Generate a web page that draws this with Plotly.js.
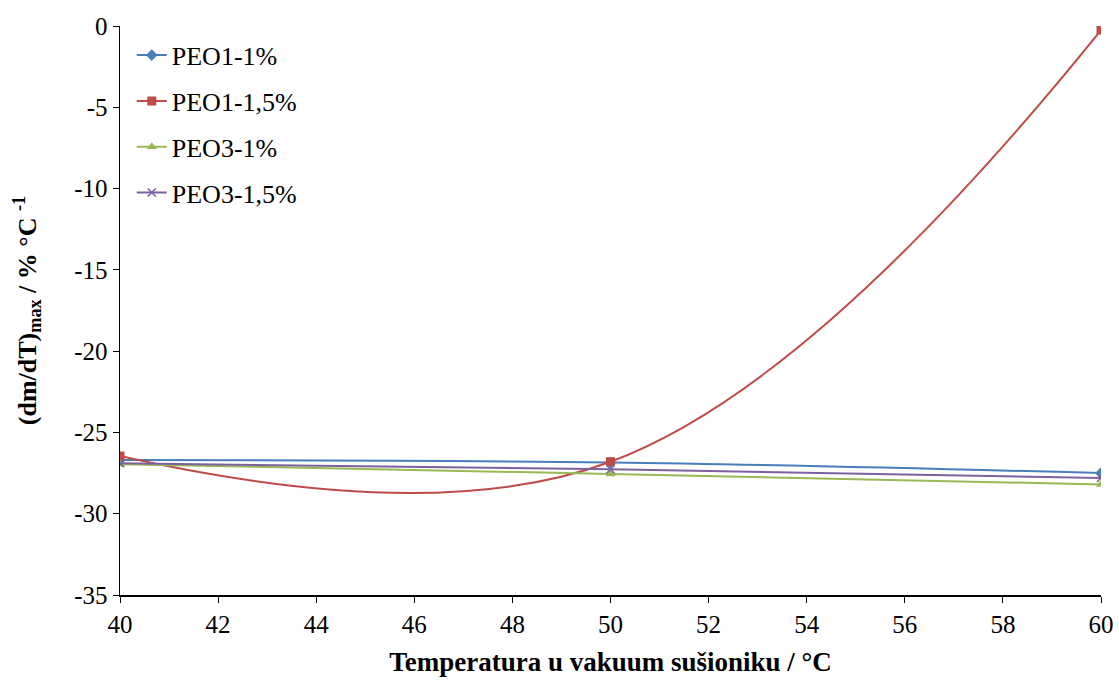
<!DOCTYPE html>
<html>
<head>
<meta charset="utf-8">
<script src="https://cdn.plot.ly/plotly-3.0.1.min.js"></script>
<style>html,body{margin:0;padding:0;background:#fff;}#chart{width:1119px;height:680px;}</style>
</head>
<body>
<div id="chart"></div>
<script>
const temps = [40, 50, 60];
const seriesNames = ["PEO1-1%", "PEO1-1,5%", "PEO3-1%", "PEO3-1,5%"];
const peo1_1 = [-26.7, -26.85, -27.5];
const peo1_15 = [-26.45, -26.8, -0.25];
const peo3_1 = [-26.95, -27.55, -28.2];
const peo3_15 = [-26.9, -27.27, -27.8];
const xTicks = [40, 42, 44, 46, 48, 50, 52, 54, 56, 58, 60];
const yTicks = [-35, -30, -25, -20, -15, -10, -5, 0];

const colors = ["#4a7ebb", "#be4b48", "#98b954", "#7d60a0"];
const symbols = ["diamond", "square", "triangle-up", "x-thin"];
const values = [peo1_1, peo1_15, peo3_1, peo3_15];

const traces = values.map((v, i) => ({
  x: temps, y: v, name: seriesNames[i], type: "scatter", mode: "lines+markers",
  legendgroup: "g" + i,
  line: {color: colors[i], width: 2, shape: "spline", smoothing: 1.15},
  marker: {color: colors[i], symbol: symbols[i], size: i === 3 ? 8 : 9,
           line: {color: colors[i], width: i === 3 ? 1.5 : 0}}
}));

const fam = "'Liberation Serif', 'Times New Roman', serif";
const font = {family: fam, size: 25, color: "#000"};
const layout = {
  width: 1119, height: 680,
  margin: {l: 120, r: 18, t: 26, b: 85},
  paper_bgcolor: "#fff", plot_bgcolor: "#fff",
  font: font,
  showlegend: true,
  legend: {x: 0.012, y: 0.99, xanchor: "left", yanchor: "top", bgcolor: "rgba(0,0,0,0)",
           font: {family: fam, size: 26, color: "#000"}, tracegroupgap: 9},
  xaxis: {range: [40, 60], tickvals: xTicks, ticktext: xTicks.map(String),
          showgrid: false, zeroline: false, showline: true, linecolor: "#000", linewidth: 1.5,
          ticks: "outside", ticklen: 6, tickcolor: "#000", tickfont: {family: fam, size: 25, color: "#000"},
          title: {text: "<b>Temperatura u vakuum sušioniku / °C</b>", font: {family: fam, size: 27, color: "#000"}, standoff: 15}},
  yaxis: {range: [-35, 0], tickvals: yTicks, ticktext: yTicks.map(String),
          showgrid: false, zeroline: false, showline: true, linecolor: "#000", linewidth: 1.5,
          ticks: "outside", ticklen: 6, tickcolor: "#000", tickfont: {family: fam, size: 25, color: "#000"},
          title: {text: "<b>(dm/dT)<sub>max</sub> / % °C <sup>-1</sup></b>", font: {family: fam, size: 26, color: "#000"}, standoff: 30}}
};
Plotly.newPlot("chart", traces, layout, {displayModeBar: false, staticPlot: true});
</script>
</body>
</html>
